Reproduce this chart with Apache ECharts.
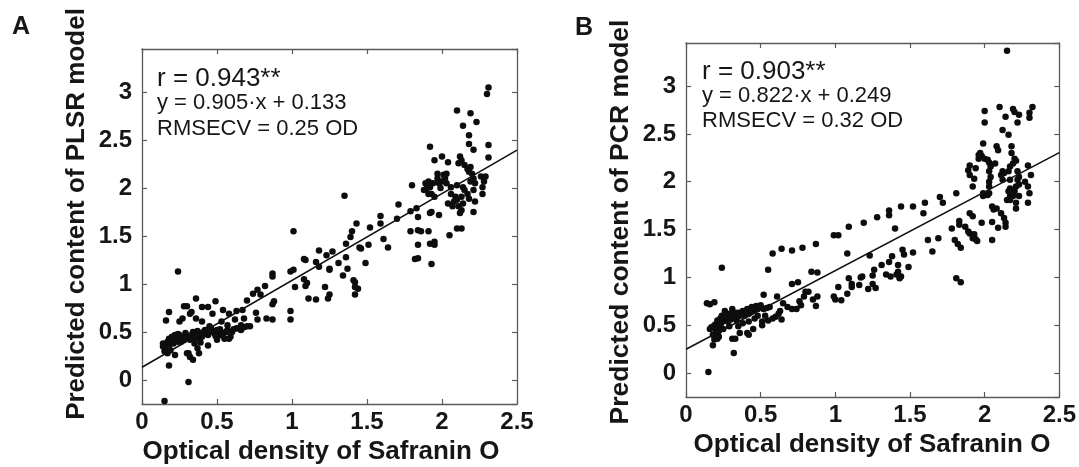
<!DOCTYPE html>
<html>
<head>
<meta charset="utf-8">
<script src="https://cdn.jsdelivr.net/npm/echarts@6/dist/echarts.min.js"></script>
<style>
html,body{margin:0;padding:0;background:#fff;}
#c{width:1079px;height:467px;}
</style>
</head>
<body>
<div id="c"></div>
<script>
// ---------- data ----------
const xRange = [0, 2.5];
const yRange = [-0.25, 3.45];
const xTickStep = 0.5;
const yTickStep = 0.5;

const panelLabels = ['A', 'B'];
const yTitles = ['Predicted content of PLSR model', 'Predicted content of PCR model'];
const xTitle = 'Optical density of Safranin O';
const statsA = ['r = 0.943**', 'y = 0.905\u00b7x + 0.133', 'RMSECV = 0.25 OD'];
const statsB = ['r = 0.903**', 'y = 0.822\u00b7x + 0.249', 'RMSECV = 0.32 OD'];

const plsrFit = {slope: 0.905, intercept: 0.133};
const pcrFit = {slope: 0.822, intercept: 0.249};

// PLSR model: [measured OD, predicted]
const plsrPoints = [
[0.24,1.13],[0.15,-0.22],[0.31,-0.02],[0.18,0.15],[0.16,0.62],[0.18,0.71],[0.14,0.38],[0.25,0.61],[0.28,0.77],[0.30,0.77],
[0.32,0.69],[0.27,0.64],[0.36,0.85],[0.33,0.71],[0.36,0.64],[0.40,0.61],[0.40,0.76],[0.44,0.76],[0.47,0.69],[0.49,0.82],
[0.54,0.73],[0.58,0.69],[0.63,0.72],[0.70,0.83],[0.74,0.90],[0.77,0.94],[0.82,0.98],[0.77,0.63],[0.83,0.64],[0.62,0.63],
[0.68,0.64],[0.16,0.33],[0.18,0.36],[0.20,0.40],[0.21,0.45],[0.23,0.42],[0.25,0.47],[0.27,0.43],[0.29,0.49],[0.31,0.45],
[0.34,0.50],[0.36,0.49],[0.38,0.43],[0.40,0.45],[0.42,0.52],[0.44,0.47],[0.46,0.54],[0.48,0.49],[0.50,0.52],[0.51,0.47],
[0.54,0.49],[0.55,0.43],[0.57,0.52],[0.59,0.45],[0.60,0.50],[0.64,0.54],[0.66,0.52],[0.68,0.55],[0.72,0.56],[0.30,0.28],
[0.31,0.28],[0.32,0.24],[0.34,0.21],[0.38,0.28],[0.39,0.39],[0.44,0.36],[0.37,0.33],[0.22,0.26],[0.50,0.42],[0.54,0.46],
[0.58,0.43],[0.19,0.31],[0.26,0.40],[0.35,0.38],[0.41,0.50],[0.45,0.56],[0.17,0.40],[0.18,0.43],[0.19,0.41],[0.20,0.45],
[0.21,0.38],[0.22,0.47],[0.23,0.44],[0.24,0.40],[0.24,0.48],[0.26,0.45],[0.28,0.42],[0.30,0.46],[0.32,0.42],[0.33,0.47],
[0.35,0.44],[0.37,0.51],[0.39,0.48],[0.43,0.50],[0.47,0.51],[0.49,0.46],[0.52,0.53],[0.56,0.50],[0.61,0.53],[0.14,0.35],
[0.15,0.30],[0.17,0.28],[0.53,0.61],[0.57,0.57],
[1.35,1.92],[1.01,1.55],[1.71,1.83],[1.70,1.68],[1.59,1.71],[1.59,1.63],[1.52,1.59],[1.43,1.63],[1.40,1.55],[1.39,1.49],
[1.36,1.42],[1.45,1.38],[1.46,1.37],[1.51,1.41],[1.61,1.47],[1.64,1.38],[1.49,1.22],[1.36,1.28],[1.37,1.16],[1.34,1.09],
[1.41,1.04],[1.42,1.02],[1.44,0.95],[1.42,0.97],[1.42,0.89],[1.18,1.35],[1.23,1.30],[1.27,1.34],[1.31,1.22],[1.25,1.16],
[1.25,1.15],[1.18,1.18],[1.16,1.23],[1.08,1.26],[1.09,1.25],[1.10,1.01],[1.09,0.98],[1.08,1.05],[1.01,1.15],[0.99,1.13],
[1.02,0.97],[1.22,0.97],[1.25,0.89],[1.24,0.85],[1.11,0.85],[1.16,0.84],[0.99,0.72],[0.99,0.63],[0.87,1.11],[0.87,1.08],
[0.88,0.82],[0.87,0.79],[0.76,0.70],[0.87,0.63],[0.79,0.89],[0.67,0.73],[0.70,0.56],[0.66,0.57],[0.63,0.54],[1.79,1.76],
[2.31,3.05],[2.30,2.98],[2.10,2.81],[2.19,2.78],[2.23,2.69],[2.14,2.65],[2.18,2.55],[2.18,2.46],[1.92,2.43],[2.21,2.40],
[2.31,2.45],[2.31,2.32],[1.95,2.29],[2.00,2.33],[2.04,2.27],[2.12,2.33],[2.13,2.29],[2.11,2.26],[2.15,2.24],[2.17,2.20],
[2.19,2.22],[2.18,2.17],[2.20,2.15],[2.21,2.10],[2.19,2.07],[2.22,2.05],[2.26,2.12],[2.29,2.12],[2.28,2.07],[2.27,2.01],
[2.27,1.94],[2.21,1.98],[2.22,1.86],[2.21,1.75],[2.14,1.84],[2.13,1.77],[2.12,1.74],[2.11,1.81],[2.09,1.91],[2.08,1.86],
[2.06,1.94],[2.04,1.84],[2.07,1.81],[2.06,2.01],[2.03,2.05],[2.02,2.10],[2.01,2.14],[2.03,2.15],[2.00,2.07],[1.97,2.15],
[1.97,2.10],[1.98,2.05],[1.99,2.00],[1.94,2.05],[1.92,2.01],[1.91,2.07],[1.90,2.00],[1.89,2.05],[1.88,1.98],[1.91,1.94],
[1.93,1.94],[1.95,1.91],[1.80,2.03],[1.83,1.79],[1.84,1.70],[1.92,1.74],[1.93,1.75],[1.98,1.72],[1.79,1.55],[1.84,1.56],
[1.86,1.55],[1.91,1.55],[1.92,1.42],[1.95,1.44],[1.95,1.41],[1.84,1.41],[1.82,1.26],[1.84,1.27],[1.93,1.21],[2.05,1.51],
[2.10,1.58],[2.13,1.58],[2.10,2.03],[2.14,2.01],[2.15,1.98],[2.13,1.91],[2.17,1.94],[2.18,1.89],[2.10,1.88]
];

// PCR model: [measured OD, predicted]
const pcrPoints = [
[0.15,0.01],[0.32,0.21],[0.24,1.10],[0.14,0.73],[0.16,0.72],[0.19,0.74],[0.58,1.25],[0.64,1.30],[0.71,1.28],[0.78,1.31],
[0.55,1.08],[0.84,1.06],[0.52,0.82],[0.61,0.80],[0.71,0.93],[0.75,0.95],[0.82,0.85],[0.65,0.73],[0.68,0.69],[0.71,0.67],
[0.74,0.67],[0.77,0.71],[0.63,0.65],[0.60,0.59],[0.64,0.56],[0.55,0.55],[0.51,0.50],[0.45,0.46],[0.41,0.42],[0.42,0.40],
[0.36,0.42],[0.31,0.36],[0.33,0.36],[0.21,0.36],[0.22,0.38],[0.18,0.29],[0.16,0.46],[0.17,0.48],[0.20,0.51],[0.21,0.55],
[0.23,0.57],[0.24,0.53],[0.26,0.59],[0.27,0.55],[0.28,0.60],[0.30,0.56],[0.31,0.61],[0.32,0.58],[0.33,0.63],[0.34,0.59],
[0.35,0.63],[0.36,0.60],[0.38,0.65],[0.39,0.60],[0.41,0.67],[0.42,0.62],[0.44,0.69],[0.45,0.65],[0.47,0.70],[0.48,0.67],
[0.50,0.71],[0.52,0.67],[0.54,0.68],[0.56,0.69],[0.29,0.49],[0.25,0.46],[0.22,0.44],[0.21,0.42],[0.35,0.49],[0.38,0.52],
[0.42,0.54],[0.46,0.57],[0.48,0.60],[0.53,0.60],[0.51,0.54],[0.26,0.65],[0.31,0.67],[0.24,0.60],[0.19,0.50],[0.22,0.53],
[0.25,0.56],[0.27,0.58],[0.29,0.62],[0.30,0.59],[0.33,0.57],[0.37,0.62],[0.40,0.64],[0.43,0.66],[0.46,0.68],[0.49,0.69],
[0.28,0.54],[0.34,0.55],[0.23,0.49],[0.20,0.45],[0.18,0.40],[0.19,0.35],[0.58,0.57],[0.62,0.62],
[0.87,1.35],[0.99,1.44],[1.02,1.44],[1.09,1.53],[1.19,1.57],[1.28,1.63],[1.36,1.70],[1.36,1.65],[1.44,1.74],[1.52,1.74],
[1.60,1.78],[1.59,1.67],[1.70,1.84],[1.72,1.78],[1.40,1.51],[1.08,1.25],[1.23,1.23],[1.62,1.39],[1.69,1.41],[1.65,1.27],
[0.88,1.05],[0.80,0.85],[0.79,0.80],[0.85,0.77],[0.88,0.80],[0.87,0.70],[0.76,0.75],[0.99,0.80],[1.00,0.77],[1.04,0.76],
[1.08,0.83],[1.02,0.90],[1.09,0.99],[1.11,0.93],[1.11,0.90],[1.16,0.92],[1.17,1.00],[1.18,1.01],[1.22,0.88],[1.25,0.93],
[1.27,0.89],[1.25,1.02],[1.26,1.08],[1.31,1.13],[1.34,1.03],[1.37,1.01],[1.36,1.16],[1.38,1.22],[1.42,1.13],[1.42,1.06],
[1.41,1.03],[1.44,1.01],[1.43,0.99],[1.45,1.29],[1.46,1.24],[1.52,1.26],[1.49,1.11],
[2.15,3.37],[2.00,2.74],[2.00,2.62],[2.10,2.78],[2.14,2.68],[2.19,2.76],[2.20,2.73],[2.23,2.70],[2.22,2.62],[2.30,2.72],
[2.30,2.67],[2.32,2.78],[2.12,2.54],[2.16,2.49],[1.99,2.40],[1.97,2.30],[1.98,2.27],[2.00,2.24],[2.02,2.23],[2.03,2.20],
[1.96,2.24],[1.96,2.28],[1.90,2.17],[1.89,2.12],[1.90,2.07],[1.93,2.03],[1.92,1.95],[1.94,2.14],[2.08,2.37],[2.09,2.33],
[2.04,2.16],[2.03,2.11],[2.04,2.05],[2.03,2.00],[2.03,1.95],[2.03,1.88],[2.02,1.86],[2.07,2.19],[2.18,2.37],[2.18,2.30],
[2.20,2.24],[2.21,2.22],[2.19,2.19],[2.17,2.16],[2.16,2.11],[2.12,2.11],[2.13,2.09],[2.11,2.07],[2.12,2.02],[2.22,2.11],
[2.23,2.05],[2.22,2.02],[2.21,1.95],[2.23,1.97],[2.17,2.02],[2.17,1.93],[2.16,1.90],[2.17,1.88],[2.17,1.85],[2.15,1.81],
[2.17,1.81],[2.19,1.85],[2.20,1.90],[2.21,1.78],[2.23,1.85],[2.21,1.72],[2.29,2.17],[2.31,2.07],[2.27,2.00],[2.29,1.95],
[2.30,1.88],[2.29,1.78],[2.05,1.74],[2.06,1.71],[2.08,1.72],[2.11,1.67],[2.13,1.62],[2.14,1.57],[2.14,1.53],[2.09,1.52],
[2.05,1.58],[2.05,1.39],[1.99,1.88],[1.99,1.85],[1.81,1.88],[1.90,1.67],[1.92,1.64],[1.83,1.59],[1.83,1.55],[1.87,1.53],
[1.89,1.48],[1.90,1.46],[1.93,1.45],[1.94,1.40],[1.92,1.41],[1.95,1.38],[1.98,1.57],[1.78,1.51],[1.80,1.39],[1.82,1.35],
[1.84,1.31],[1.81,0.99],[1.84,0.95]
];

// ---------- chart ----------
const FONT = '"Liberation Sans", Arial, Helvetica, sans-serif';
const TXT = '#161616';
const AXC = '#5a5a5a';

function fitLine(f) {
  return xRange.map(x => [x, f.slope * x + f.intercept]);
}

const labelStyle = {fontFamily: FONT, fontWeight: 'bold', fontSize: 24, color: TXT};

function xAxis(gridIndex, position, labels) {
  return {
    type: 'value', gridIndex, position,
    min: xRange[0], max: xRange[1], interval: xTickStep,
    axisLine: {show: true, onZero: false, lineStyle: {color: AXC, width: 1.3}},
    axisTick: {show: true, inside: true, length: 5, lineStyle: {color: AXC, width: 1.2}},
    axisLabel: Object.assign({show: labels, margin: 6}, labelStyle),
    splitLine: {show: false}
  };
}
function yAxis(gridIndex, position, labels) {
  return {
    type: 'value', gridIndex, position,
    min: yRange[0], max: yRange[1], minInterval: yTickStep, maxInterval: yTickStep, splitNumber: 7,
    axisLine: {show: true, onZero: false, lineStyle: {color: AXC, width: 1.3}},
    axisTick: {show: true, inside: true, length: 5, lineStyle: {color: AXC, width: 1.2}},
    axisLabel: Object.assign({show: labels, margin: 10, showMinLabel: false, showMaxLabel: false}, labelStyle),
    splitLine: {show: false}
  };
}

function txt(text, x, y, size, bold, align, rot) {
  return {
    type: 'text', x, y, rotation: rot || 0, silent: true,
    style: {
      text, font: (bold ? 'bold ' : '') + size + 'px ' + FONT, fill: TXT,
      align: align || 'left', textAlign: align || 'left',
      verticalAlign: 'middle', textVerticalAlign: 'middle'
    }
  };
}

const chart = echarts.init(document.getElementById('c'), null, {renderer: 'canvas'});
chart.setOption({
  backgroundColor: '#ffffff',
  animation: false,
  grid: [
    {left: 142, top: 49, width: 375, height: 355},
    {left: 686, top: 43, width: 375, height: 354}
  ],
  xAxis: [xAxis(0, 'bottom', true), xAxis(0, 'top', false), xAxis(1, 'bottom', true), xAxis(1, 'top', false)],
  yAxis: [yAxis(0, 'left', true), yAxis(0, 'right', false), yAxis(1, 'left', true), yAxis(1, 'right', false)],
  series: [
    {type: 'scatter', xAxisIndex: 0, yAxisIndex: 0, data: plsrPoints, symbolSize: 6.5, itemStyle: {color: '#0d0d0d', opacity: 1}},
    {type: 'line', xAxisIndex: 0, yAxisIndex: 0, data: fitLine(plsrFit), symbol: 'none', lineStyle: {color: '#111', width: 1.6}},
    {type: 'scatter', xAxisIndex: 2, yAxisIndex: 2, data: pcrPoints, symbolSize: 6.5, itemStyle: {color: '#0d0d0d', opacity: 1}},
    {type: 'line', xAxisIndex: 2, yAxisIndex: 2, data: fitLine(pcrFit), symbol: 'none', lineStyle: {color: '#111', width: 1.6}}
  ],
  graphic: [
    txt(panelLabels[0], 21, 27, 25, true, 'center'),
    txt(panelLabels[1], 584, 28, 25, true, 'center'),
    txt(yTitles[0], 77, 214, 26, true, 'center', Math.PI / 2),
    txt(yTitles[1], 621, 222, 26.5, true, 'center', Math.PI / 2),
    txt(xTitle, 321, 452, 26, true, 'center'),
    txt(xTitle, 872, 445, 26, true, 'center'),
    txt(statsA[0], 157, 78.6, 26, false),
    txt(statsA[1], 157, 103, 22, false),
    txt(statsA[2], 157, 128.8, 22, false),
    txt(statsB[0], 702, 72.3, 26, false),
    txt(statsB[1], 702, 96, 22, false),
    txt(statsB[2], 702, 121.4, 22, false)
  ]
});
</script>
</body>
</html>
